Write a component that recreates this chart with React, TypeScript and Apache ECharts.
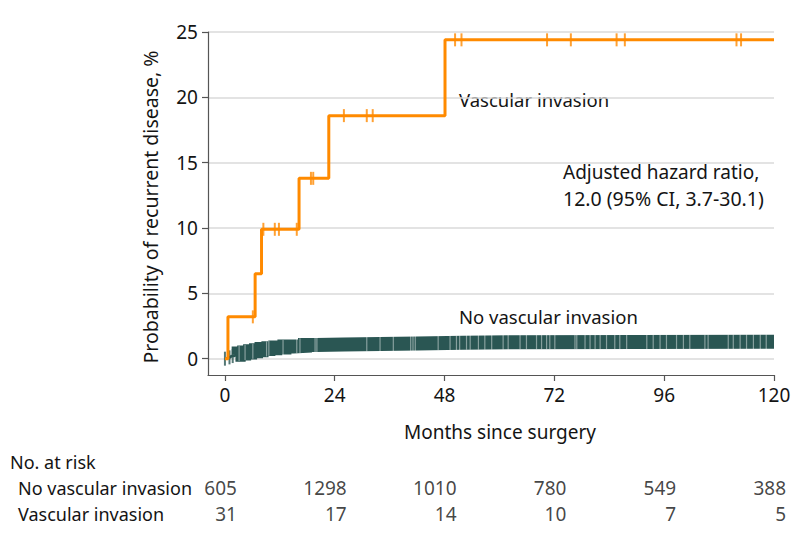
import React, { useEffect, useRef } from "react";
import * as echarts from "echarts";

// ---- axes ----
const monthTicks = [0, 24, 48, 72, 96, 120];
const percentTicks = [0, 5, 10, 15, 20, 25];

// ---- Vascular invasion (cumulative incidence, %) ----
const viTimes = [0, 0.66, 6.6, 8.0, 16.2, 22.7, 48.1];
const viRisk = [0, 3.2, 6.5, 9.9, 13.8, 18.6, 24.4];
const viCensored = [6.1, 8.4, 10.9, 11.8, 15.7, 18.8, 19.3, 26.0, 31.0, 32.3, 50.3, 51.7, 70.4, 75.6, 85.6, 87.4, 111.8, 112.8];

// ---- No vascular invasion ----
const noViTimes = [0, 0.6, 1.3, 2.2, 3.0, 4.2, 5.5, 6.8, 8.0, 9.5, 11, 13, 15, 17.5, 20, 26, 34, 42, 52, 62];
const noViRisk = [0, 0.1, 0.2, 0.3, 0.4, 0.48, 0.56, 0.64, 0.74, 0.8, 0.86, 0.93, 0.98, 1.04, 1.09, 1.12, 1.16, 1.21, 1.26, 1.3];
const noViEarlyCensored = [0.0, 1.0, 1.7];
const noViDenseCensorStart = 2.3;
const noViCensorGaps = [3.1, 4.4, 6.1, 9.1, 9.6, 12.7, 15.7, 16.4, 19.7, 20.1, 31.0, 33.9, 36.8, 40.6, 41.1, 41.6, 46.6, 49.2, 50.6, 51.3, 52.8, 53.6, 55.4, 56.8, 58.3, 60.8, 61.9, 64.5, 65.9, 68.1, 69.2, 70.3, 71.0, 72.1, 76.5, 76.9, 78.7, 79.8, 80.9, 82.0, 83.4, 85.2, 86.3, 87.8, 92.2, 93.6, 95.1, 96.5, 98.7, 100.2, 101.6, 104.9, 105.6, 110.0, 111.1, 112.6, 114.0, 115.5, 117.0, 118.3];

const followUpEnd = 120;

// ---- Number at risk ----
const riskGroups = ["No vascular invasion", "Vascular invasion"];
const atRiskNoVi = [605, 1298, 1010, 780, 549, 388];
const atRiskVi = [31, 17, 14, 10, 7, 5];

const FONT = "'Noto Sans', sans-serif";
const ORANGE = "#ff8a00";
const GREEN = "#2a5653";
const TEXT = "#141414";
const AXIS = "#555555";

function stepAt(times: number[], vals: number[], t: number): number {
  let v = vals[0];
  for (let i = 0; i < times.length; i++) if (times[i] <= t) v = vals[i];
  return v;
}

function stepData(times: number[], vals: number[], from: number, to: number) {
  const pts: number[][] = [[from, stepAt(times, vals, from)]];
  for (let i = 0; i < times.length; i++) {
    if (times[i] > from && times[i] < to) pts.push([times[i], vals[i]]);
  }
  pts.push([to, stepAt(times, vals, to)]);
  return pts;
}

export default function App() {
  const ref = useRef<HTMLDivElement>(null);
  useEffect(() => {
    if (!ref.current) return;
    const chart = echarts.init(ref.current, undefined, { renderer: "svg" });
    const riskData: any[] = [];
    monthTicks.forEach((t, i) => {
      riskData.push([t, 0, atRiskNoVi[i]]);
      riskData.push([t, 1, atRiskVi[i]]);
    });
    const option: any = {
      animation: false,
      textStyle: { fontFamily: FONT },
      grid: [
        { left: 208, right: 20, top: 32, bottom: 167 },
        { left: 208, right: 20, top: 475, height: 52 },
      ],
      xAxis: [
        {
          type: "value",
          gridIndex: 0,
          min: -3.7,
          max: 120,
          axisLine: { show: true, onZero: false, lineStyle: { color: AXIS, width: 1.2 } },
          axisTick: { show: true, length: 6, customValues: monthTicks, lineStyle: { color: AXIS, width: 1.2 } },
          axisLabel: { customValues: monthTicks, margin: 10, fontSize: 19, color: TEXT, fontFamily: FONT },
          splitLine: { show: false },
        },
        { type: "value", gridIndex: 1, min: -3.7, max: 120, show: false },
      ],
      yAxis: [
        {
          type: "value",
          gridIndex: 0,
          min: -1.25,
          max: 25,
          axisLine: { show: true, onZero: false, lineStyle: { color: AXIS, width: 1.2 } },
          axisTick: { show: true, length: 6, customValues: percentTicks, lineStyle: { color: AXIS, width: 1.2 } },
          axisLabel: { customValues: percentTicks, margin: 10, fontSize: 19, color: TEXT, fontFamily: FONT },
          splitLine: { show: true, lineStyle: { color: "#dadada", width: 1.5 } },
        },
        {
          type: "category",
          gridIndex: 1,
          data: riskGroups,
          inverse: true,
          axisLine: { show: false },
          axisTick: { show: false },
          splitLine: { show: false },
          axisLabel: { align: "left", margin: 190, fontSize: 18, color: TEXT, fontFamily: FONT },
        },
      ],
      series: [
        {
          type: "line",
          step: "end",
          symbol: "none",
          data: stepData(noViTimes, noViRisk, 0, followUpEnd),
          lineStyle: { color: GREEN, width: 2.5 },
          z: 2,
        },
        {
          type: "line",
          step: "end",
          symbol: "none",
          data: stepData(noViTimes, noViRisk, noViDenseCensorStart, followUpEnd),
          lineStyle: { color: GREEN, width: 14, cap: "butt", join: "miter" },
          z: 3,
        },
        {
          type: "scatter",
          symbol: "rect",
          symbolSize: [2, 14],
          data: noViEarlyCensored.map((t) => [t, stepAt(noViTimes, noViRisk, t)]),
          itemStyle: { color: GREEN },
          z: 3,
        },
        {
          type: "scatter",
          symbol: "rect",
          symbolSize: [1.2, 15],
          data: noViCensorGaps.map((t) => [t, stepAt(noViTimes, noViRisk, t)]),
          itemStyle: { color: "rgba(255,255,255,0.55)" },
          z: 4,
        },
        {
          type: "line",
          step: "end",
          symbol: "none",
          data: stepData(viTimes, viRisk, 0, followUpEnd),
          lineStyle: { color: ORANGE, width: 3 },
          z: 5,
        },
        {
          type: "scatter",
          symbol: "rect",
          symbolSize: [2, 13],
          data: viCensored.map((t) => [t, stepAt(viTimes, viRisk, t)]),
          itemStyle: { color: ORANGE },
          z: 6,
        },
        {
          type: "scatter",
          xAxisIndex: 1,
          yAxisIndex: 1,
          symbolSize: 1,
          itemStyle: { color: "transparent" },
          data: riskData,
          label: {
            show: true,
            position: "inside",
            align: "right",
            offset: [12, 0],
            fontSize: 19,
            color: TEXT,
            fontFamily: FONT,
            formatter: (p: any) => String(p.value[2]),
          },
        },
      ],
      graphic: [
        { type: "text", x: 459, y: 99, style: { text: "Vascular invasion", fill: TEXT, fontSize: 18.5, fontFamily: FONT, verticalAlign: "middle" } },
        { type: "text", x: 459, y: 316, style: { text: "No vascular invasion", fill: TEXT, fontSize: 18.5, fontFamily: FONT, verticalAlign: "middle" } },
        { type: "text", x: 563, y: 172, style: { text: "Adjusted hazard ratio,", fill: TEXT, fontSize: 19, fontFamily: FONT, verticalAlign: "middle" } },
        { type: "text", x: 563, y: 198, style: { text: "12.0 (95% CI, 3.7-30.1)", fill: TEXT, fontSize: 19.5, fontFamily: FONT, verticalAlign: "middle" } },
        { type: "text", x: 500, y: 432, style: { text: "Months since surgery", fill: TEXT, fontSize: 19, fontFamily: FONT, align: "center", verticalAlign: "middle" } },
        { type: "text", x: 150, y: 207, rotation: Math.PI / 2, style: { text: "Probability of recurrent disease, %", fill: TEXT, fontSize: 19.5, fontFamily: FONT, align: "center", verticalAlign: "middle" } },
        { type: "text", x: 10, y: 462, style: { text: "No. at risk", fill: TEXT, fontSize: 18, fontFamily: FONT, verticalAlign: "middle" } },
      ],
    };
    chart.setOption(option);
    return () => chart.dispose();
  }, []);
  return (
    <div
      ref={ref}
      style={{ position: "fixed", left: 0, top: 0, width: 794, height: 542, background: "#fff" }}
    />
  );
}
